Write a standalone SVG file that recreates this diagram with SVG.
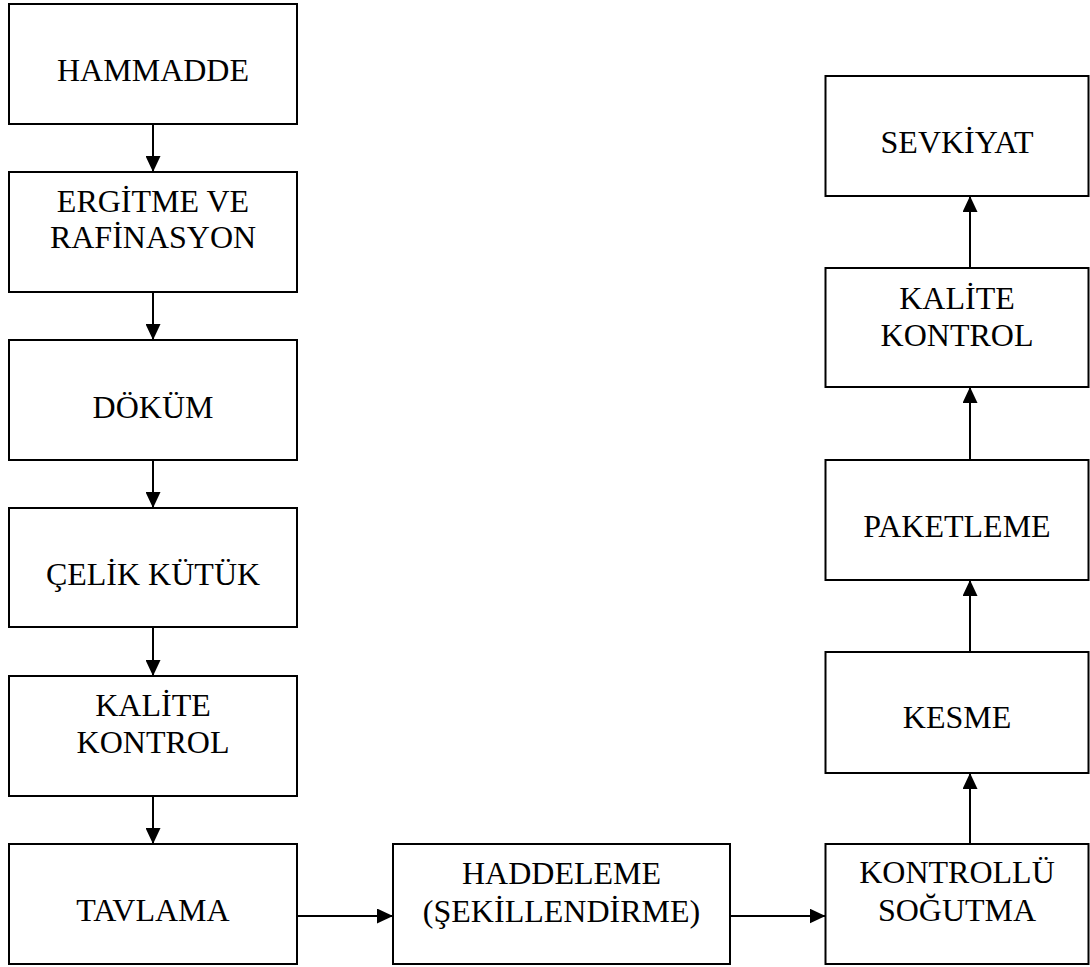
<svg xmlns="http://www.w3.org/2000/svg" width="1090" height="967" viewBox="0 0 1090 967">
<defs>
<style>
.box{fill:#fff;stroke:#000;stroke-width:2}
.t{font-family:"Liberation Serif","Times New Roman",serif;font-size:32px;fill:#000;text-anchor:middle}
.c{stroke:#000;stroke-width:2;fill:none;marker-end:url(#ah)}
</style>
<marker id="ah" markerUnits="userSpaceOnUse" markerWidth="16" markerHeight="15" refX="16" refY="7.5" orient="auto">
<path d="M0,0 L16,7.5 L0,15 z" fill="#000"/>
</marker>
</defs>
<rect width="1090" height="967" fill="#fff"/>
<g id="connectors">
<line class="c" x1="153" y1="124" x2="153" y2="172"/>
<line class="c" x1="153" y1="292" x2="153" y2="340"/>
<line class="c" x1="153" y1="460" x2="153" y2="508"/>
<line class="c" x1="153" y1="627" x2="153" y2="676"/>
<line class="c" x1="153" y1="796" x2="153" y2="844"/>
<line class="c" x1="297" y1="916" x2="393" y2="916"/>
<line class="c" x1="730" y1="916" x2="825.5" y2="916"/>
<line class="c" x1="970" y1="844" x2="970" y2="773"/>
<line class="c" x1="970" y1="652" x2="970" y2="580"/>
<line class="c" x1="970" y1="460" x2="970" y2="387"/>
<line class="c" x1="970" y1="268" x2="970" y2="196"/>
</g>
<g id="hammadde"><rect class="box" x="9" y="4" width="288" height="120"/><text class="t" x="153" y="81">HAMMADDE</text></g>
<g id="ergitme"><rect class="box" x="9" y="172" width="288" height="120"/><text class="t" x="153" y="212">ERGİTME VE</text><text class="t" x="153" y="248">RAFİNASYON</text></g>
<g id="dokum"><rect class="box" x="9" y="340" width="288" height="120"/><text class="t" x="153" y="418">DÖKÜM</text></g>
<g id="celik"><rect class="box" x="9" y="508" width="288" height="119"/><text class="t" x="153" y="585">ÇELİK KÜTÜK</text></g>
<g id="kalite1"><rect class="box" x="9" y="676" width="288" height="120"/><text class="t" x="153" y="716">KALİTE</text><text class="t" x="153" y="753">KONTROL</text></g>
<g id="tavlama"><rect class="box" x="9" y="844" width="288" height="120"/><text class="t" x="153" y="921">TAVLAMA</text></g>
<g id="haddeleme"><rect class="box" x="393" y="844" width="337" height="120"/><text class="t" x="561.5" y="884">HADDELEME</text><text class="t" x="561.5" y="922">(ŞEKİLLENDİRME)</text></g>
<g id="sogutma"><rect class="box" x="825.5" y="844" width="263" height="120"/><text class="t" x="957" y="883">KONTROLLÜ</text><text class="t" x="957" y="921">SOĞUTMA</text></g>
<g id="kesme"><rect class="box" x="825.5" y="652" width="263" height="121"/><text class="t" x="957" y="728">KESME</text></g>
<g id="paketleme"><rect class="box" x="825.5" y="460" width="263" height="120"/><text class="t" x="957" y="537">PAKETLEME</text></g>
<g id="kalite2"><rect class="box" x="825.5" y="268" width="263" height="119"/><text class="t" x="957" y="309">KALİTE</text><text class="t" x="957" y="346">KONTROL</text></g>
<g id="sevkiyat"><rect class="box" x="825.5" y="76" width="263" height="120"/><text class="t" x="957" y="153">SEVKİYAT</text></g>
</svg>
